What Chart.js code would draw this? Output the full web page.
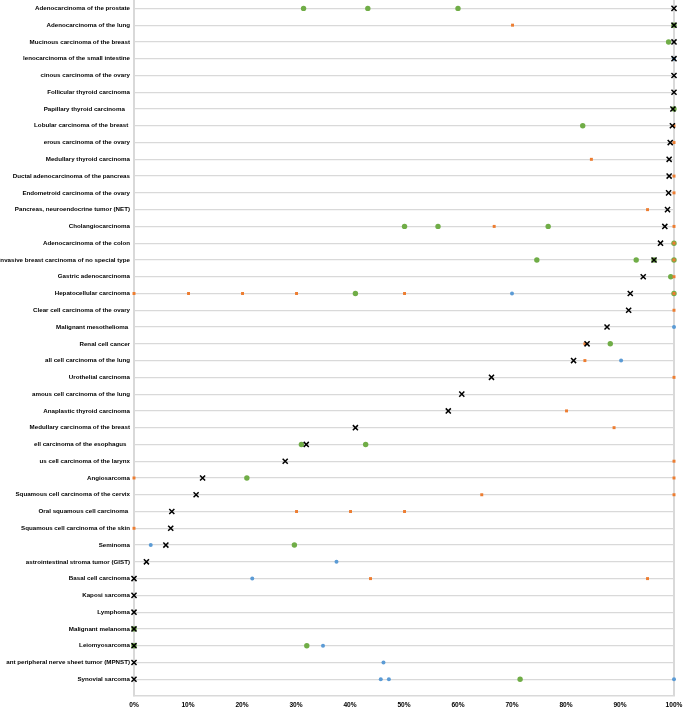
<!DOCTYPE html>
<html>
<head>
<meta charset="utf-8">
<script src="https://cdn.jsdelivr.net/npm/chart.js@4/dist/chart.umd.min.js"></script>
<style>
  html, body { margin: 0; padding: 0; background: #fff; }
  canvas { display: block; }
</style>
</head>
<body>
<canvas id="tumorChart" width="685" height="710"></canvas>
<script>
// =================================================================
// 1. DATA (one row per tumour type, top to bottom)
// =================================================================
const tumorTypes = [
  "Adenocarcinoma of the prostate",
  "Adenocarcinoma of the lung",
  "Mucinous carcinoma of the breast",
  "lenocarcinoma of the small intestine",
  "cinous carcinoma of the ovary",
  "Follicular thyroid carcinoma",
  "Papillary thyroid carcinoma   ",
  "Lobular carcinoma of the breast ",
  "erous carcinoma of the ovary",
  "Medullary thyroid carcinoma",
  "Ductal adenocarcinoma of the pancreas",
  "Endometroid carcinoma of the ovary",
  "Pancreas, neuroendocrine tumor (NET)",
  "Cholangiocarcinoma",
  "Adenocarcinoma of the colon",
  "Invasive breast carcinoma of no special type",
  "Gastric adenocarcinoma",
  "Hepatocellular carcinoma",
  "Clear cell carcinoma of the ovary",
  "Malignant mesothelioma ",
  "Renal cell cancer",
  "all cell carcinoma of the lung",
  "Urothelial carcinoma",
  "amous cell carcinoma of the lung",
  "Anaplastic thyroid carcinoma",
  "Medullary carcinoma of the breast",
  "ell carcinoma of the esophagus  ",
  "us cell carcinoma of the larynx",
  "Angiosarcoma",
  "Squamous cell carcinoma of the cervix",
  "Oral squamous cell carcinoma ",
  "Squamous cell carcinoma of the skin",
  "Seminoma",
  "astrointestinal stroma tumor (GIST)",
  "Basal cell carcinoma",
  "Kaposi sarcoma",
  "Lymphoma",
  "Malignant melanoma",
  "Leiomyosarcoma",
  "ant peripheral nerve sheet tumor (MPNST)",
  "Synovial sarcoma"
];

// black X marker, one value per row (%)
const crossValues = [
  100, 100, 100, 100, 100, 100, 99.8, 99.7, 99.3, 99.1,
  99.1, 99.0, 98.8, 98.3, 97.5, 96.3, 94.3, 91.9, 91.6, 87.6,
  83.9, 81.4, 66.2, 60.7, 58.2, 41.0, 31.9, 28.0, 12.7, 11.5,
  7.0, 6.8, 5.9, 2.3, 0, 0, 0, 0, 0, 0, 0
];

// green dots, per row (%)
const greenValues = [
  [31.4, 43.3, 60.0], [100], [99.0], [], [], [], [100], [83.1], [], [],
  [], [], [], [50.1, 56.3, 76.7], [100], [74.6, 93.0, 96.3, 100], [99.4], [41.0, 100], [], [],
  [88.2], [], [], [], [], [], [31.0, 42.9], [], [20.9], [],
  [], [], [29.7], [], [], [], [], [0], [0, 32.0], [],
  [71.5]
];

// orange dots, per row (%)
const orangeValues = [
  [], [70.1], [], [], [], [], [], [100], [100], [84.7],
  [100], [100], [95.1], [66.7, 100], [100], [100], [100], [0, 10.1, 20.1, 30.1, 50.1, 100], [100], [],
  [83.5], [83.5], [100], [], [80.1], [88.9], [], [100], [0, 100], [64.4, 100],
  [30.1, 40.1, 50.1], [0], [], [], [43.8, 95.1], [], [], [], [], [],
  []
];

// blue dots, per row (%)
const blueValues = [
  [], [], [], [100], [], [], [], [], [], [],
  [], [], [], [], [], [], [], [70.0], [], [100],
  [], [90.2], [], [], [], [], [], [], [], [],
  [], [], [3.1], [37.5], [21.9], [], [], [], [35.0], [46.2],
  [45.7, 47.2, 100]
];

const percentTicks = [0, 10, 20, 30, 40, 50, 60, 70, 80, 90, 100];

// =================================================================
// 2. HELPERS
// =================================================================
function toPoints(rows) {
  const pts = [];
  rows.forEach((vals, i) => vals.forEach(v => pts.push({ x: v, y: i + 1 })));
  return pts;
}

const gridGrey = '#d9d9d9';
const labelFont = { family: 'Liberation Sans, Arial, sans-serif', size: 6.2, weight: 'bold' };

// =================================================================
// 3. CHART
// =================================================================
const ctx = document.getElementById('tumorChart').getContext('2d');
new Chart(ctx, {
  type: 'scatter',
  data: {
    datasets: [
      {
        label: 'X',
        data: crossValues.map((v, i) => ({ x: v, y: i + 1 })),
        pointStyle: 'crossRot',
        pointRadius: 3.6,
        borderColor: '#000',
        borderWidth: 1.5,
        order: 0,
        clip: false
      },
      {
        label: 'orange',
        data: toPoints(orangeValues),
        pointStyle: 'rect',
        pointRadius: 2.1,
        backgroundColor: '#ed7d31',
        borderColor: '#ed7d31',
        borderWidth: 0,
        order: 1,
        clip: false
      },
      {
        label: 'blue',
        data: toPoints(blueValues),
        pointRadius: 2,
        backgroundColor: '#5b9bd5',
        borderColor: '#5b9bd5',
        borderWidth: 0,
        order: 2,
        clip: false
      },
      {
        label: 'green',
        data: toPoints(greenValues),
        pointRadius: 2.7,
        backgroundColor: '#70ad47',
        borderColor: '#70ad47',
        borderWidth: 0,
        order: 3,
        clip: false
      }
    ]
  },
  options: {
    responsive: false,
    animation: false,
    devicePixelRatio: 1,
    // no extra room for point overflow: the plot starts right at the top edge
    layout: { autoPadding: false, padding: { top: 0, right: 11, bottom: 0, left: 0 } },
    plugins: {
      legend: { display: false },
      tooltip: { enabled: false }
    },
    scales: {
      x: {
        type: 'linear',
        min: 0,
        max: 100,
        afterBuildTicks: s => { s.ticks = percentTicks.map(v => ({ value: v })); },
        afterFit: s => { s.height = 14; s.paddingLeft = 0; s.paddingRight = 0; },
        ticks: {
          callback: v => v + '%',
          color: '#000',
          font: { family: 'Liberation Sans, Arial, sans-serif', size: 6.6, weight: 'bold' },
          padding: 5,
          maxRotation: 0
        },
        grid: {
          drawTicks: false,
          color: c => (c.tick && c.tick.value === 100 ? gridGrey : 'rgba(0,0,0,0)'),
          lineWidth: 2
        },
        border: { color: gridGrey, width: 1.5 }
      },
      y: {
        type: 'linear',
        reverse: true,
        min: 0.5,
        max: 42,
        afterBuildTicks: s => { s.ticks = tumorTypes.map((_, i) => ({ value: i + 1 })); },
        // fixed label column; long labels simply run off the left edge
        afterFit: s => { s.width = 134; s.paddingTop = 0; s.paddingBottom = 0; },
        ticks: {
          autoSkip: false,
          callback: v => tumorTypes[v - 1] || '',
          color: '#000',
          font: labelFont,
          padding: 4
        },
        grid: { drawTicks: false, color: gridGrey, lineWidth: 1.2 },
        border: { color: gridGrey, width: 2 }
      }
    }
  }
});
</script>
</body>
</html>
